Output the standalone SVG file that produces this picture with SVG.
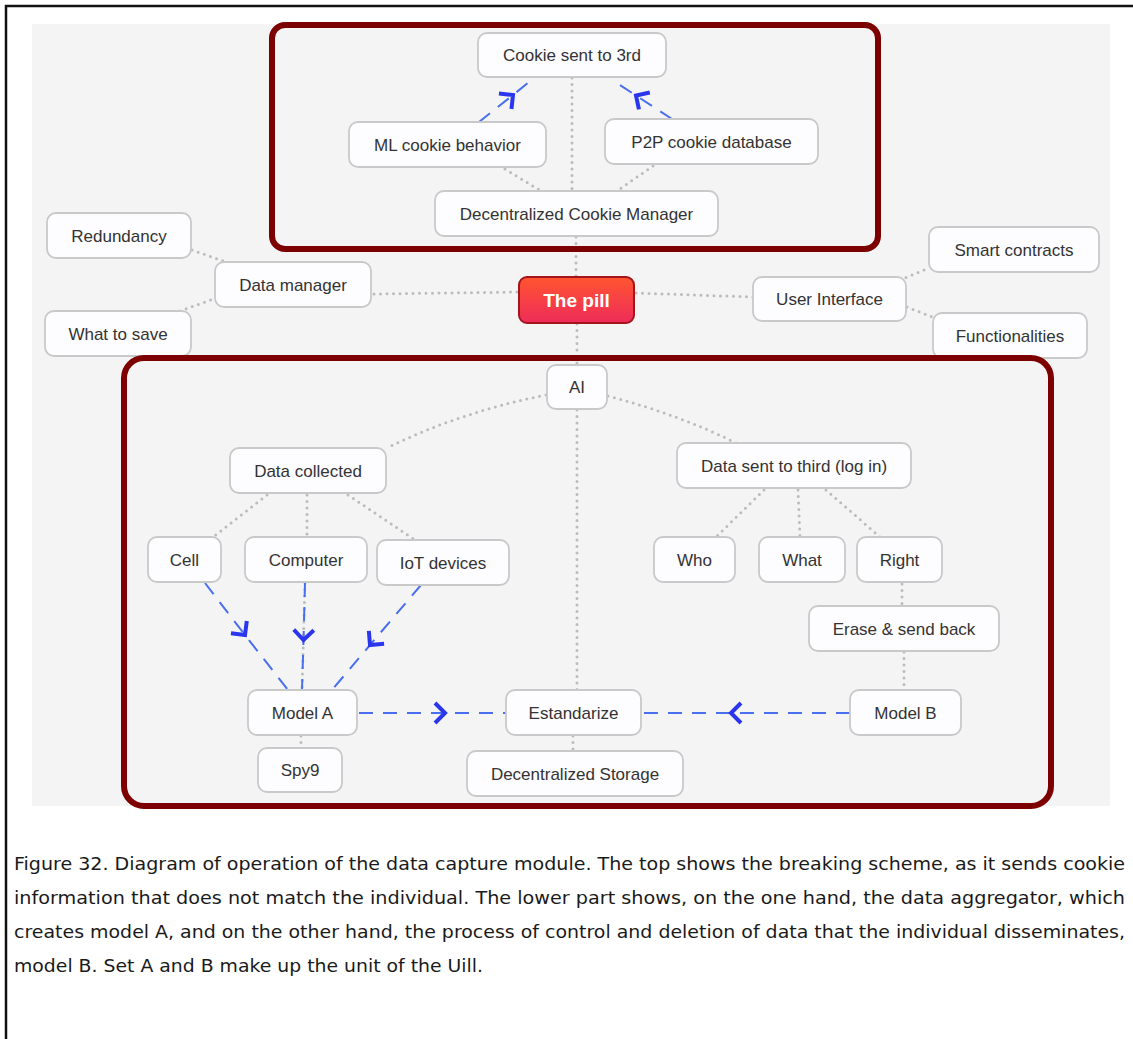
<svg xmlns="http://www.w3.org/2000/svg" width="1133" height="1039" viewBox="0 0 1133 1039">
<defs>
<style>
.node rect{fill:#fdfcfe;stroke:#c9c9c9;stroke-width:1.8}
.node text{font-family:"Liberation Sans",Arial,sans-serif;font-size:17px;fill:#333;text-anchor:middle}
.dot{fill:none;stroke:#bcbcbc;stroke-width:3;stroke-linecap:round;stroke-dasharray:0 6.5}
.dash{fill:none;stroke:#4a6ef0;stroke-width:2;stroke-dasharray:14 10;marker-mid:url(#chev)}
.frame{fill:none;stroke:#7d0000;stroke-width:6}
.cap{font-family:"DejaVu Sans",Verdana,sans-serif;font-size:17px;fill:#1a1a1a}
</style>
<linearGradient id="pillg" x1="0" y1="0" x2="0" y2="1">
<stop offset="0" stop-color="#ff5530"/>
<stop offset="1" stop-color="#ee2c5a"/>
</linearGradient>
<marker id="chev" markerUnits="userSpaceOnUse" markerWidth="30" markerHeight="30" refX="0" refY="0" viewBox="-15 -15 30 30" orient="auto" overflow="visible">
<path d="M-10,-10 L0,0 L-10,10" fill="none" stroke="#2a36ee" stroke-width="4" stroke-linejoin="miter"/>
</marker>
</defs>
<rect x="0" y="0" width="1133" height="1039" fill="#ffffff"/>
<path d="M6,1039 V6 H1133" fill="none" stroke="#111" stroke-width="2.5"/>
<rect x="32" y="24" width="1078" height="782" fill="#f4f4f4"/>

<g id="connectors">
<path class="dot" d="M572,78 V191"/>
<path class="dot" d="M505,169 L541,191"/>
<path class="dot" d="M653,166 L617,191"/>
<path class="dot" d="M576,237 V277"/>
<path class="dot" d="M192,250 L226,262"/>
<path class="dot" d="M180,311 L216,298"/>
<path class="dot" d="M374,294 L519,292"/>
<path class="dot" d="M636,293 L753,297"/>
<path class="dot" d="M900,280 L929,268"/>
<path class="dot" d="M907,307 L935,318"/>
<path class="dot" d="M577,324 V365"/>
<path class="dot" d="M546,395 Q460,412 387,448"/>
<path class="dot" d="M608,396 Q680,415 736,443"/>
<path class="dot" d="M577,410 V690"/>
<path class="dot" d="M267,495 L213,537"/>
<path class="dot" d="M307,495 V537"/>
<path class="dot" d="M348,495 L415,540"/>
<path class="dot" d="M764,490 L716,537"/>
<path class="dot" d="M798,490 L800,537"/>
<path class="dot" d="M826,490 L880,537"/>
<path class="dot" d="M902,584 V606"/>
<path class="dot" d="M904,652 V690"/>
<path class="dot" d="M301,736 V748"/>
<path class="dot" d="M573,736 V751"/>
<path class="dot" d="M305,583 L302,690"/>
<path class="dash" d="M479,122 L513,95 L534,78"/>
<path class="dash" d="M672,119 L636,95.5 L612,80"/>
<path class="dash" d="M205,583 L245,635 L288,690"/>
<path class="dash" d="M305,583 L303.5,640 L302,690"/>
<path class="dash" d="M421,585 L370,645 L332,690"/>
<path class="dash" d="M359,713 L445,713 L506,713"/>
<path class="dash" d="M850,713 L731,713 L641,713"/>
</g>

<g id="cookie-sent"><g class="node"><rect x="478" y="33" width="188" height="44" rx="9"/><text x="572" y="61">Cookie sent to 3rd</text></g></g>
<g id="ml-cookie"><g class="node"><rect x="349" y="122" width="197" height="45" rx="9"/><text x="447.5" y="151">ML cookie behavior</text></g></g>
<g id="p2p-cookie"><g class="node"><rect x="605" y="119" width="213" height="45" rx="9"/><text x="711.5" y="148">P2P cookie database</text></g></g>
<g id="dcm"><g class="node"><rect x="435" y="191" width="283" height="45" rx="9"/><text x="576.5" y="220">Decentralized Cookie Manager</text></g></g>
<g id="redundancy"><g class="node"><rect x="47" y="213" width="144" height="45" rx="9"/><text x="119" y="242">Redundancy</text></g></g>
<g id="data-manager"><g class="node"><rect x="215" y="262" width="156" height="45" rx="9"/><text x="293" y="291">Data manager</text></g></g>
<g id="what-to-save"><g class="node"><rect x="45" y="311" width="146" height="45" rx="9"/><text x="118" y="340">What to save</text></g></g>
<g id="the-pill"><rect x="519" y="277" width="115" height="46" rx="8" fill="url(#pillg)" stroke="#a3141c" stroke-width="2"/><text x="576.5" y="307" font-family="'Liberation Sans',Arial,sans-serif" font-size="19" font-weight="bold" fill="#ffffff" text-anchor="middle">The pill</text></g>
<g id="user-interface"><g class="node"><rect x="753" y="277" width="153" height="44" rx="9"/><text x="829.5" y="305">User Interface</text></g></g>
<g id="smart-contracts"><g class="node"><rect x="929" y="227" width="170" height="45" rx="9"/><text x="1014" y="256">Smart contracts</text></g></g>
<g id="functionalities"><g class="node"><rect x="933" y="313" width="154" height="45" rx="9"/><text x="1010" y="342">Functionalities</text></g></g>
<g id="ai"><g class="node"><rect x="547" y="365" width="60" height="44" rx="9"/><text x="577" y="393">AI</text></g></g>
<g id="data-collected"><g class="node"><rect x="230" y="448" width="156" height="45" rx="9"/><text x="308" y="477">Data collected</text></g></g>
<g id="data-sent"><g class="node"><rect x="677" y="443" width="234" height="45" rx="9"/><text x="794" y="472">Data sent to third (log in)</text></g></g>
<g id="cell"><g class="node"><rect x="148" y="537" width="73" height="45" rx="9"/><text x="184.5" y="566">Cell</text></g></g>
<g id="computer"><g class="node"><rect x="245" y="537" width="122" height="45" rx="9"/><text x="306" y="566">Computer</text></g></g>
<g id="iot"><g class="node"><rect x="377" y="540" width="132" height="45" rx="9"/><text x="443" y="569">IoT devices</text></g></g>
<g id="who"><g class="node"><rect x="654" y="537" width="81" height="45" rx="9"/><text x="694.5" y="566">Who</text></g></g>
<g id="what"><g class="node"><rect x="759" y="537" width="86" height="45" rx="9"/><text x="802" y="566">What</text></g></g>
<g id="right"><g class="node"><rect x="857" y="537" width="85" height="45" rx="9"/><text x="899.5" y="566">Right</text></g></g>
<g id="erase"><g class="node"><rect x="809" y="606" width="190" height="45" rx="9"/><text x="904" y="635">Erase &amp; send back</text></g></g>
<g id="model-a"><g class="node"><rect x="248" y="690" width="109" height="45" rx="9"/><text x="302.5" y="719">Model A</text></g></g>
<g id="estandarize"><g class="node"><rect x="506" y="690" width="135" height="45" rx="9"/><text x="573.5" y="719">Estandarize</text></g></g>
<g id="model-b"><g class="node"><rect x="850" y="690" width="111" height="45" rx="9"/><text x="905.5" y="719">Model B</text></g></g>
<g id="spy9"><g class="node"><rect x="258" y="748" width="84" height="44" rx="9"/><text x="300" y="776">Spy9</text></g></g>
<g id="dec-storage"><g class="node"><rect x="467" y="751" width="216" height="45" rx="9"/><text x="575" y="780">Decentralized Storage</text></g></g>

<g id="frames">
<rect class="frame" x="272" y="25" width="606" height="224" rx="13"/>
<rect class="frame" x="124" y="358" width="927" height="448" rx="20"/>
</g>

<g id="caption">
<text class="cap" x="14" y="870" textLength="1111" lengthAdjust="spacingAndGlyphs">Figure 32. Diagram of operation of the data capture module. The top shows the breaking scheme, as it sends cookie</text>
<text class="cap" x="14" y="904" textLength="1111" lengthAdjust="spacingAndGlyphs">information that does not match the individual. The lower part shows, on the one hand, the data aggregator, which</text>
<text class="cap" x="14" y="938" textLength="1111" lengthAdjust="spacingAndGlyphs">creates model A, and on the other hand, the process of control and deletion of data that the individual disseminates,</text>
<text class="cap" x="14" y="972" textLength="469" lengthAdjust="spacingAndGlyphs">model B. Set A and B make up the unit of the Uill.</text>
</g>
</svg>
